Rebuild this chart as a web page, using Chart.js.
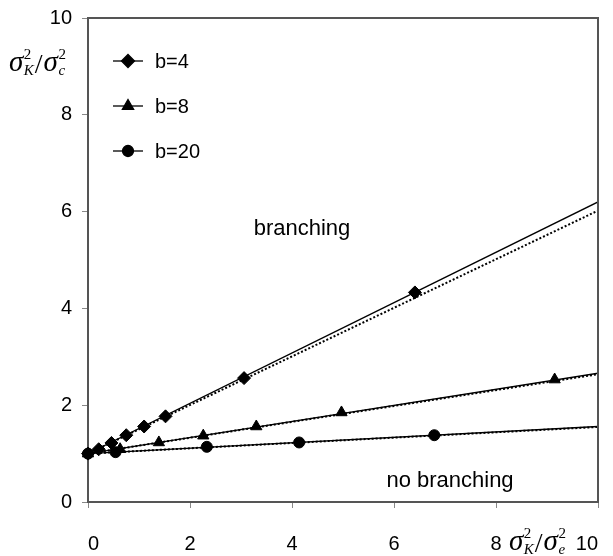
<!DOCTYPE html>
<html>
<head>
<meta charset="utf-8">
<script src="https://cdn.jsdelivr.net/npm/chart.js@4/dist/chart.umd.min.js"></script>
<style>
  html, body { margin: 0; padding: 0; background: #fff; }
  #wrap { width: 613px; height: 556px; }
</style>
</head>
<body>
<div id="wrap"><canvas id="c" width="613" height="556"></canvas></div>
<script>
// Variance ratio sigma_K^2/sigma_c^2 versus sigma_K^2/sigma_e^2 for three values of b.

// Line end points (x = 0 and x = 10)
const lineX = [0, 10];
const b4Solid = [1, 6.2];
const b4Dotted = [1, 6.02];
const b8Solid = [1, 2.66];
const b8Dotted = [1, 2.64];
const b20Solid = [1, 1.56];
const b20Dotted = [1, 1.55];

// Marked points
const b4X = [0, 0.21, 0.46, 0.75, 1.10, 1.52, 3.06, 6.41];
const b4Y = [1, 1.09, 1.22, 1.38, 1.56, 1.77, 2.56, 4.33];
const b8X = [0, 0.63, 1.39, 2.26, 3.30, 4.97, 9.15];
const b8Y = [1, 1.09, 1.23, 1.37, 1.56, 1.85, 2.53];
const b20X = [0, 0.54, 2.33, 4.14, 6.79];
const b20Y = [1, 1.03, 1.14, 1.23, 1.38];

const seriesLabels = ['b=4', 'b=8', 'b=20'];
const regionLabels = ['branching', 'no branching'];
const xTicks = [0, 2, 4, 6, 8, 10];
const yTicks = [0, 2, 4, 6, 8, 10];

const pts = (xs, ys) => xs.map((x, i) => ({ x: x, y: ys[i] }));

function solid(ys) {
  return { data: pts(lineX, ys), showLine: true, borderColor: '#000', borderWidth: 1.3,
           pointRadius: 0, fill: false, tension: 0, isLegend: false };
}
function dotted(ys) {
  return { data: pts(lineX, ys), showLine: true, borderColor: '#000', borderWidth: 2,
           borderDash: [2, 2], pointRadius: 0, fill: false, tension: 0, isLegend: false };
}
function marks(label, xs, ys, style, r) {
  return { label: label, data: pts(xs, ys), showLine: false, pointStyle: style,
           pointRadius: r, pointBackgroundColor: '#000', pointBorderColor: '#000',
           pointBorderWidth: 1, clip: false, isLegend: true };
}

const datasets = [
  dotted(b4Dotted), solid(b4Solid),
  dotted(b8Dotted), solid(b8Solid),
  dotted(b20Dotted), solid(b20Solid),
  marks(seriesLabels[0], b4X, b4Y, 'rectRot', 6.5),
  marks(seriesLabels[1], b8X, b8Y, 'triangle', 6.5),
  marks(seriesLabels[2], b20X, b20Y, 'circle', 5.5)
];

const SANS = '"Liberation Sans", Arial, sans-serif';
const SERIF = '"Liberation Serif", "Times New Roman", serif';

// sigma^2_A / sigma^2_B written with italic sigma, superscript 2 and subscript
function drawRatio(ctx, x, base, subA, subB) {
  ctx.save();
  ctx.fillStyle = '#000';
  ctx.textBaseline = 'alphabetic';
  ctx.textAlign = 'left';
  function term(sub) {
    ctx.font = 'italic 29px ' + SERIF;
    ctx.fillText('σ', x, base);
    x += ctx.measureText('σ').width + 0.5;
    ctx.font = '15px ' + SERIF;
    ctx.fillText('2', x, base - 12);
    const w2 = ctx.measureText('2').width;
    ctx.font = 'italic 15px ' + SERIF;
    ctx.fillText(sub, x, base + 4);
    x += Math.max(w2, ctx.measureText(sub).width) + 1;
  }
  term(subA);
  ctx.font = '28px ' + SERIF;
  ctx.fillText('/', x, base + 2);
  x += ctx.measureText('/').width + 1;
  term(subB);
  ctx.restore();
}

const decorations = {
  id: 'decorations',
  afterDraw(chart) {
    const ctx = chart.ctx;
    const a = chart.chartArea;
    // top and right frame lines
    ctx.save();
    ctx.strokeStyle = '#555';
    ctx.lineWidth = 2;
    ctx.beginPath();
    ctx.moveTo(a.left, a.top);
    ctx.lineTo(a.right, a.top);
    ctx.lineTo(a.right, a.bottom);
    ctx.stroke();
    ctx.restore();

    // legend inside the plot: line sample with marker, then label
    const legendY = [61, 106, 151];
    let k = 0;
    chart.data.datasets.forEach((ds) => {
      if (!ds.isLegend) return;
      const y = legendY[k++];
      ctx.save();
      ctx.strokeStyle = '#000';
      ctx.lineWidth = 1.3;
      ctx.beginPath();
      ctx.moveTo(113, y);
      ctx.lineTo(143, y);
      ctx.stroke();
      ctx.fillStyle = '#000';
      Chart.helpers.drawPoint(ctx, {
        pointStyle: ds.pointStyle, radius: ds.pointRadius, rotation: 0, borderWidth: 1
      }, 128, y);
      ctx.font = '20px ' + SANS;
      ctx.textBaseline = 'middle';
      ctx.textAlign = 'left';
      ctx.fillText(ds.label, 155, y + 1);
      ctx.restore();
    });

    // region labels
    ctx.save();
    ctx.fillStyle = '#000';
    ctx.font = '22px ' + SANS;
    ctx.textAlign = 'center';
    ctx.textBaseline = 'alphabetic';
    ctx.fillText(regionLabels[0], 302, 235);
    ctx.fillText(regionLabels[1], 450, 487);
    ctx.restore();

    // axis titles
    drawRatio(ctx, 9, 71, 'K', 'c');
    drawRatio(ctx, 509, 550, 'K', 'e');
  }
};

new Chart(document.getElementById('c'), {
  type: 'scatter',
  data: { datasets: datasets },
  options: {
    responsive: false,
    animation: false,
    events: [],
    layout: { autoPadding: false, padding: { top: 18, right: 15, left: 0, bottom: 0 } },
    plugins: { legend: { display: false }, tooltip: { enabled: false } },
    scales: {
      x: {
        type: 'linear', min: 0, max: 10,
        afterBuildTicks(s) { s.ticks = xTicks.map(v => ({ value: v })); },
        afterFit(s) { s.height = 54; s.paddingLeft = 0; s.paddingRight = 0; },
        ticks: { color: '#000', font: { family: SANS, size: 20 }, padding: 24,
                 maxRotation: 0, align: 'inner' },
        grid: { drawOnChartArea: false, drawTicks: true, tickLength: 6, color: '#888' },
        border: { display: true, color: '#555', width: 2 }
      },
      y: {
        type: 'linear', min: 0, max: 10,
        afterBuildTicks(s) { s.ticks = yTicks.map(v => ({ value: v })); },
        afterFit(s) { s.width = 88; s.paddingTop = 0; s.paddingBottom = 0; },
        ticks: { color: '#000', font: { family: SANS, size: 20 }, padding: 10 },
        grid: { drawOnChartArea: false, drawTicks: true, tickLength: 6, color: '#888' },
        border: { display: true, color: '#555', width: 2 }
      }
    }
  },
  plugins: [decorations]
});
</script>
</body>
</html>
